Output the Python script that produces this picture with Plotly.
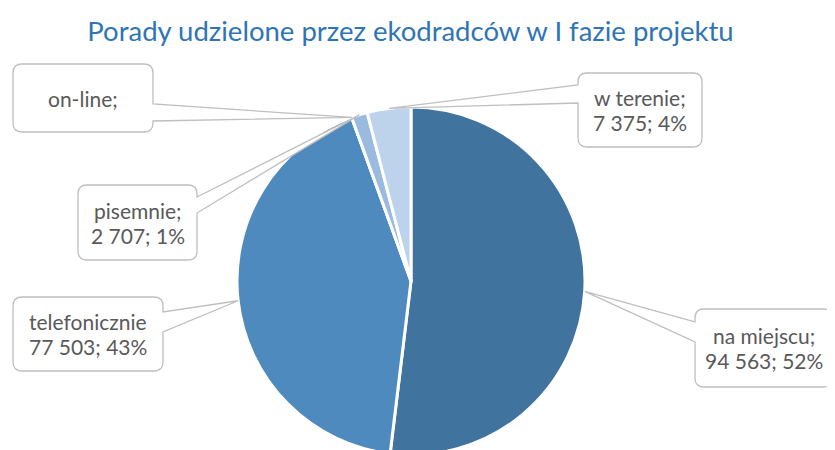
import math
import plotly.graph_objects as go

# ---- data ----
categories = ["na miejscu", "telefonicznie", "on-line", "pisemnie", "w terenie"]
label_names = ["na miejscu;", "telefonicznie", "on-line;", "pisemnie;", "w terenie;"]
values = [94563, 77503, 0, 2707, 7375]
colors = ["#41739F", "#4F8ABE", "#9DBCE2", "#9ABAE0", "#BDD2EB"]

# ---- layout constants (page pixels) ----
OFF = 8            # default body margin of the page
FW, FH = 835, 458  # figure size
CX, CY, R = 411, 281, 174

# callout boxes: (x0, y0, x1, y1, wedge side, wedge y start, wedge y end)
boxes = {
    "na miejscu": (695, 309, 833, 387, "left", 322, 342),
    "telefonicznie": (13, 297, 163, 371, "right", 312, 332),
    "on-line": (13, 64, 153, 132, "right", 104, 121),
    "pisemnie": (78, 185, 197, 260, "right", 197, 213),
    "w terenie": (578, 73, 702, 147, "left", 85, 103),
}


def px(x, y):
    return (x - OFF) / FW, 1 - (y - OFF) / FH


def fmt_int(v):
    return f"{v:,}".replace(",", " ")


total = sum(values)

dx0, dy_top = px(CX - R, CY - R)
dx1, dy_bot = px(CX + R, CY + R)

fig = go.Figure(
    go.Pie(
        labels=categories,
        values=values,
        sort=False,
        direction="clockwise",
        rotation=0,
        marker=dict(colors=colors, line=dict(color="white", width=3)),
        textinfo="none",
        hoverinfo="skip",
        domain=dict(x=[dx0, dx1], y=[dy_bot, dy_top]),
    )
)

shapes = []
annotations = []
cum = 0.0
for cat, name, v in zip(categories, label_names, values):
    theta = 2 * math.pi * (cum + v / 2) / total
    cum += v
    tx = CX + R * math.sin(theta)
    ty = CY - R * math.cos(theta)
    x0, y0, x1, y1, side, wa, wb = boxes[cat]
    rr = 9
    pts = []

    def P(cmd, *coords):
        s = cmd
        for i in range(0, len(coords), 2):
            X, Y = px(coords[i], coords[i + 1])
            s += f" {X:.5f},{Y:.5f}"
        pts.append(s)

    P("M", x0 + rr, y0)
    P("L", x1 - rr, y0)
    P("Q", x1, y0, x1, y0 + rr)
    if side == "right":
        P("L", x1, wa)
        P("L", tx, ty)
        P("L", x1, wb)
    P("L", x1, y1 - rr)
    P("Q", x1, y1, x1 - rr, y1)
    P("L", x0 + rr, y1)
    P("Q", x0, y1, x0, y1 - rr)
    if side == "left":
        P("L", x0, wb)
        P("L", tx, ty)
        P("L", x0, wa)
    P("L", x0, y0 + rr)
    P("Q", x0, y0, x0 + rr, y0)
    path = " ".join(pts) + " Z"
    shapes.append(
        dict(type="path", xref="paper", yref="paper", path=path,
             fillcolor="white", line=dict(color="#BFBFBF", width=1.3), layer="above")
    )
    if v > 0:
        pct = round(100 * v / total)
        lines = [name, f"{fmt_int(v)}; {pct}%"]
    else:
        lines = [name]
    cxb, cyb = (x0 + x1) / 2, (y0 + y1) / 2
    n = len(lines)
    for i, line in enumerate(lines):
        ly = cyb + (i - (n - 1) / 2) * 25
        ax, ay = px(cxb, ly)
        annotations.append(
            dict(x=ax, y=ay, xref="paper", yref="paper", text=line, showarrow=False,
                 xanchor="center", yanchor="middle", align="center",
                 font=dict(family="Lato", size=21, color="#595959"))
        )

tx_, ty_ = px(410.5, 31)
fig.update_layout(
    width=FW, height=FH,
    margin=dict(l=0, r=0, t=0, b=0),
    paper_bgcolor="white",
    showlegend=False,
    title=dict(text="Porady udzielone przez ekodradców w I fazie projektu",
               x=tx_, y=ty_, xanchor="center", yanchor="middle",
               font=dict(family="Lato", size=27.5, color="#2F75B5")),
    shapes=shapes,
    annotations=annotations,
)

fig.write_html("out.html")
